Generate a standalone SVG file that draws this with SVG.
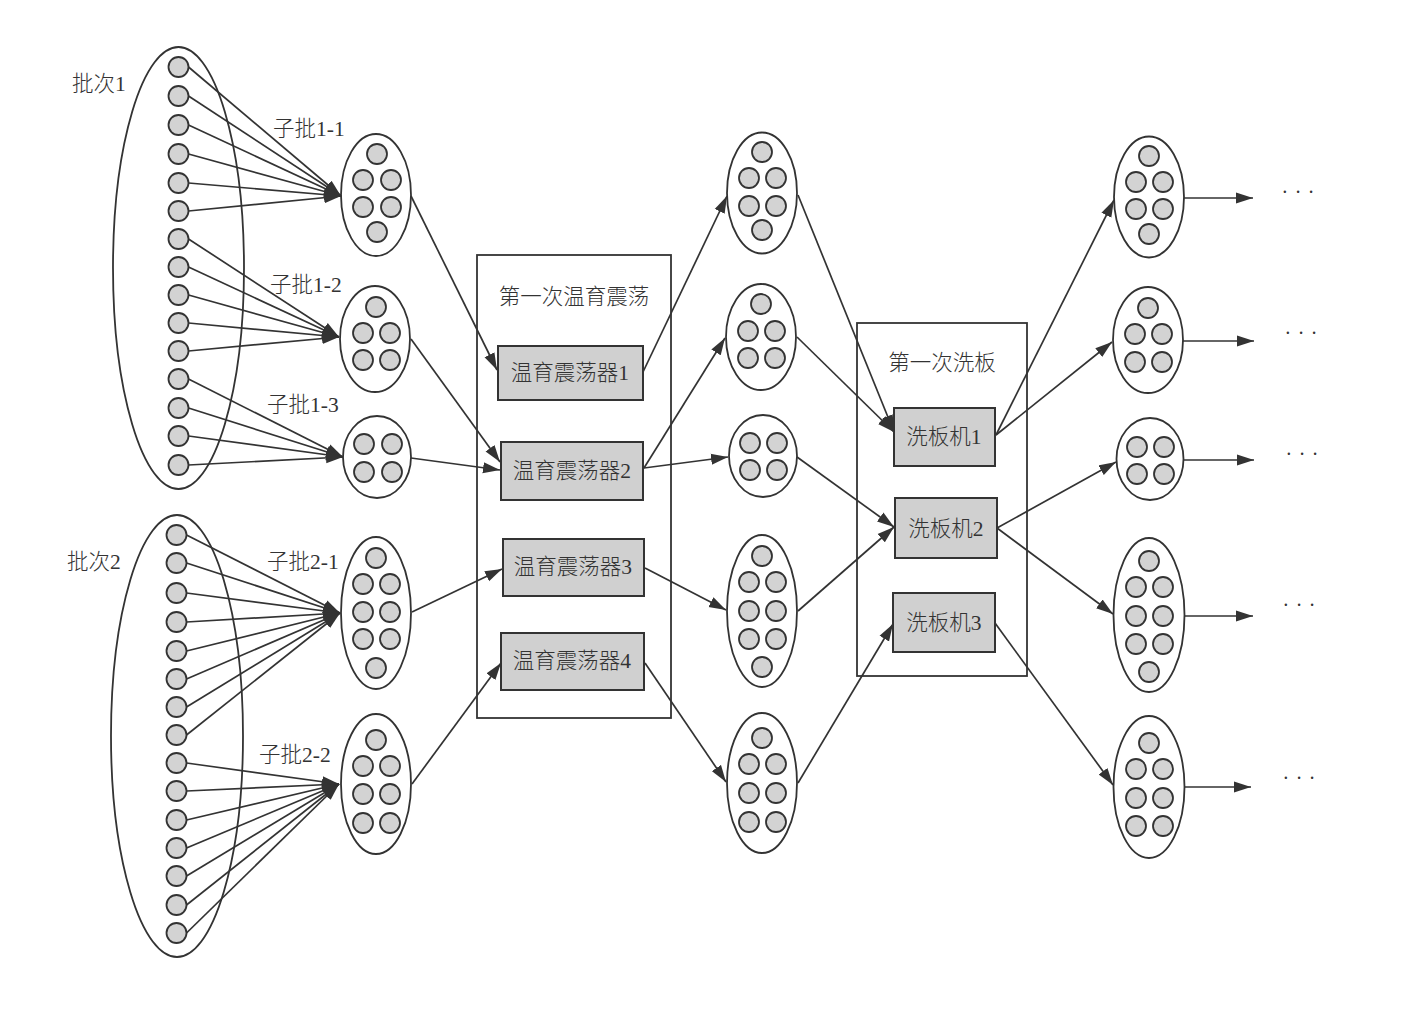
<svg xmlns="http://www.w3.org/2000/svg" width="1409" height="1019" viewBox="0 0 1409 1019">
<defs>
<style>
.c{fill:#d3d3d3;stroke:#333;stroke-width:1.8}
.e{fill:#fff;stroke:#333;stroke-width:1.8}
.bg{fill:none;stroke:#333;stroke-width:1.8}
.box{fill:#d0d0d0;stroke:#333;stroke-width:2}
.frame{fill:none;stroke:#333;stroke-width:1.8}
.lk{stroke:#333;stroke-width:1.7;fill:none;marker-end:url(#ah)}
text{font-family:"Liberation Serif","Noto Sans CJK SC",serif;font-size:21.5px;fill:#333;font-weight:300}
.m{text-anchor:middle}
.dots{font-size:20px;letter-spacing:6.5px}
</style>
<marker id="ah" markerUnits="userSpaceOnUse" markerWidth="17" markerHeight="12" refX="17" refY="6" orient="auto">
<path d="M0,0.5 L17,6 L0,11.5 z" fill="#333"/>
</marker>
</defs>
<rect width="1409" height="1019" fill="#fff"/>

<g id="batch1">
<ellipse class="bg" cx="178.5" cy="268" rx="65.5" ry="221"/>
<g class="c">
<circle cx="178.5" cy="67" r="10"/><circle cx="178.5" cy="96" r="10"/><circle cx="178.5" cy="125" r="10"/><circle cx="178.5" cy="154" r="10"/><circle cx="178.5" cy="183" r="10"/><circle cx="178.5" cy="211" r="10"/><circle cx="178.5" cy="239" r="10"/><circle cx="178.5" cy="267" r="10"/><circle cx="178.5" cy="295" r="10"/><circle cx="178.5" cy="323" r="10"/><circle cx="178.5" cy="351" r="10"/><circle cx="178.5" cy="379" r="10"/><circle cx="178.5" cy="408" r="10"/><circle cx="178.5" cy="436" r="10"/><circle cx="178.5" cy="465" r="10"/>
</g>
<text x="72" y="84" dominant-baseline="central">批次1</text>
</g>

<g id="batch2">
<ellipse class="bg" cx="177" cy="736" rx="66" ry="221"/>
<g class="c">
<circle cx="176.5" cy="535" r="10"/><circle cx="176.5" cy="563" r="10"/><circle cx="176.5" cy="593" r="10"/><circle cx="176.5" cy="622" r="10"/><circle cx="176.5" cy="651" r="10"/><circle cx="176.5" cy="679" r="10"/><circle cx="176.5" cy="707" r="10"/><circle cx="176.5" cy="735" r="10"/><circle cx="176.5" cy="763" r="10"/><circle cx="176.5" cy="791" r="10"/><circle cx="176.5" cy="820" r="10"/><circle cx="176.5" cy="848" r="10"/><circle cx="176.5" cy="876" r="10"/><circle cx="176.5" cy="905" r="10"/><circle cx="176.5" cy="933" r="10"/>
</g>
<text x="67" y="562" dominant-baseline="central">批次2</text>
</g>

<g id="sub1-1">
<ellipse class="e" cx="376" cy="195" rx="35" ry="61"/>
<g class="c"><circle cx="377" cy="154" r="10"/><circle cx="363" cy="180" r="10"/><circle cx="391" cy="180" r="10"/><circle cx="363" cy="207" r="10"/><circle cx="391" cy="207" r="10"/><circle cx="377" cy="232" r="10"/></g>
<text x="273" y="129" dominant-baseline="central">子批1-1</text>
</g>
<g id="sub1-2">
<ellipse class="e" cx="375" cy="339" rx="35" ry="53"/>
<g class="c"><circle cx="376" cy="307" r="10"/><circle cx="363" cy="333" r="10"/><circle cx="390" cy="333" r="10"/><circle cx="363" cy="360" r="10"/><circle cx="390" cy="360" r="10"/></g>
<text x="270" y="285" dominant-baseline="central">子批1-2</text>
</g>
<g id="sub1-3">
<ellipse class="e" cx="377" cy="457" rx="34" ry="41"/>
<g class="c"><circle cx="364" cy="444" r="10"/><circle cx="392" cy="444" r="10"/><circle cx="364" cy="472" r="10"/><circle cx="392" cy="472" r="10"/></g>
<text x="267" y="405" dominant-baseline="central">子批1-3</text>
</g>
<g id="sub2-1">
<ellipse class="e" cx="376" cy="613" rx="35" ry="76"/>
<g class="c"><circle cx="376" cy="558" r="10"/><circle cx="363" cy="584" r="10"/><circle cx="390" cy="584" r="10"/><circle cx="363" cy="612" r="10"/><circle cx="390" cy="612" r="10"/><circle cx="363" cy="639" r="10"/><circle cx="390" cy="639" r="10"/><circle cx="376" cy="668" r="10"/></g>
<text x="267" y="562" dominant-baseline="central">子批2-1</text>
</g>
<g id="sub2-2">
<ellipse class="e" cx="376" cy="784" rx="35" ry="70"/>
<g class="c"><circle cx="376" cy="740" r="10"/><circle cx="363" cy="766" r="10"/><circle cx="390" cy="766" r="10"/><circle cx="363" cy="794" r="10"/><circle cx="390" cy="794" r="10"/><circle cx="363" cy="823" r="10"/><circle cx="390" cy="823" r="10"/></g>
<text x="259" y="755" dominant-baseline="central">子批2-2</text>
</g>

<g id="incubate-group">
<rect class="frame" x="477" y="255" width="194" height="463"/>
<text class="m" x="574" y="297" dominant-baseline="central">第一次温育震荡</text>
</g>
<g id="inc1"><rect class="box" x="498" y="346" width="145" height="54"/><text class="m" x="570" y="373" dominant-baseline="central">温育震荡器1</text></g>
<g id="inc2"><rect class="box" x="501" y="442" width="142" height="58"/><text class="m" x="572" y="471" dominant-baseline="central">温育震荡器2</text></g>
<g id="inc3"><rect class="box" x="503" y="539" width="141" height="57"/><text class="m" x="573" y="567" dominant-baseline="central">温育震荡器3</text></g>
<g id="inc4"><rect class="box" x="501" y="633" width="143" height="57"/><text class="m" x="572" y="661" dominant-baseline="central">温育震荡器4</text></g>

<g id="mid-A">
<ellipse class="e" cx="762" cy="193" rx="35" ry="60.5"/>
<g class="c"><circle cx="762" cy="152" r="10"/><circle cx="749" cy="178" r="10"/><circle cx="776" cy="178" r="10"/><circle cx="749" cy="206" r="10"/><circle cx="776" cy="206" r="10"/><circle cx="762" cy="230" r="10"/></g>
</g>
<g id="mid-B">
<ellipse class="e" cx="761" cy="337" rx="35" ry="53"/>
<g class="c"><circle cx="761" cy="304" r="10"/><circle cx="748" cy="331" r="10"/><circle cx="775" cy="331" r="10"/><circle cx="748" cy="358" r="10"/><circle cx="775" cy="358" r="10"/></g>
</g>
<g id="mid-C">
<ellipse class="e" cx="763" cy="456" rx="34" ry="41"/>
<g class="c"><circle cx="750" cy="443" r="10"/><circle cx="777" cy="443" r="10"/><circle cx="750" cy="470" r="10"/><circle cx="777" cy="470" r="10"/></g>
</g>
<g id="mid-D">
<ellipse class="e" cx="762" cy="611" rx="35" ry="76"/>
<g class="c"><circle cx="762" cy="556" r="10"/><circle cx="749" cy="582" r="10"/><circle cx="776" cy="582" r="10"/><circle cx="749" cy="611" r="10"/><circle cx="776" cy="611" r="10"/><circle cx="749" cy="639" r="10"/><circle cx="776" cy="639" r="10"/><circle cx="762" cy="667" r="10"/></g>
</g>
<g id="mid-E">
<ellipse class="e" cx="762" cy="783" rx="35" ry="70"/>
<g class="c"><circle cx="762" cy="738" r="10"/><circle cx="749" cy="764" r="10"/><circle cx="776" cy="764" r="10"/><circle cx="749" cy="793" r="10"/><circle cx="776" cy="793" r="10"/><circle cx="749" cy="822" r="10"/><circle cx="776" cy="822" r="10"/></g>
</g>

<g id="wash-group">
<rect class="frame" x="857" y="323" width="170" height="353"/>
<text class="m" x="942" y="363" dominant-baseline="central">第一次洗板</text>
</g>
<g id="wash1"><rect class="box" x="894" y="408" width="101" height="58"/><text class="m" x="944" y="437" dominant-baseline="central">洗板机1</text></g>
<g id="wash2"><rect class="box" x="895" y="498" width="102" height="60"/><text class="m" x="946" y="529" dominant-baseline="central">洗板机2</text></g>
<g id="wash3"><rect class="box" x="893" y="593" width="102" height="59"/><text class="m" x="944" y="623" dominant-baseline="central">洗板机3</text></g>

<g id="out-1">
<ellipse class="e" cx="1149" cy="197" rx="35" ry="60.5"/>
<g class="c"><circle cx="1149" cy="156" r="10"/><circle cx="1136" cy="182" r="10"/><circle cx="1163" cy="182" r="10"/><circle cx="1136" cy="209" r="10"/><circle cx="1163" cy="209" r="10"/><circle cx="1149" cy="234" r="10"/></g>
<text class="dots" x="1281.5" y="199">···</text>
</g>
<g id="out-2">
<ellipse class="e" cx="1148" cy="340" rx="35" ry="53"/>
<g class="c"><circle cx="1148" cy="308" r="10"/><circle cx="1135" cy="334" r="10"/><circle cx="1162" cy="334" r="10"/><circle cx="1135" cy="362" r="10"/><circle cx="1162" cy="362" r="10"/></g>
<text class="dots" x="1284.5" y="340">···</text>
</g>
<g id="out-3">
<ellipse class="e" cx="1150" cy="459" rx="33.5" ry="41"/>
<g class="c"><circle cx="1137" cy="447" r="10"/><circle cx="1164" cy="447" r="10"/><circle cx="1137" cy="474" r="10"/><circle cx="1164" cy="474" r="10"/></g>
<text class="dots" x="1285.5" y="461">···</text>
</g>
<g id="out-4">
<ellipse class="e" cx="1149" cy="615" rx="35.5" ry="77"/>
<g class="c"><circle cx="1149" cy="561" r="10"/><circle cx="1136" cy="587" r="10"/><circle cx="1163" cy="587" r="10"/><circle cx="1136" cy="616" r="10"/><circle cx="1163" cy="616" r="10"/><circle cx="1136" cy="644" r="10"/><circle cx="1163" cy="644" r="10"/><circle cx="1149" cy="672" r="10"/></g>
<text class="dots" x="1282.5" y="612">···</text>
</g>
<g id="out-5">
<ellipse class="e" cx="1149" cy="787" rx="35.5" ry="71"/>
<g class="c"><circle cx="1149" cy="743" r="10"/><circle cx="1136" cy="769" r="10"/><circle cx="1163" cy="769" r="10"/><circle cx="1136" cy="798" r="10"/><circle cx="1163" cy="798" r="10"/><circle cx="1136" cy="826" r="10"/><circle cx="1163" cy="826" r="10"/></g>
<text class="dots" x="1282.5" y="785">···</text>
</g>

<g id="connectors">
<line class="lk" x1="188.5" y1="67" x2="341" y2="196"/>
<line class="lk" x1="188.5" y1="96" x2="341" y2="196"/>
<line class="lk" x1="188.5" y1="125" x2="341" y2="196"/>
<line class="lk" x1="188.5" y1="154" x2="341" y2="196"/>
<line class="lk" x1="188.5" y1="183" x2="341" y2="196"/>
<line class="lk" x1="188.5" y1="211" x2="341" y2="196"/>
<line class="lk" x1="188.5" y1="239" x2="339" y2="337"/>
<line class="lk" x1="188.5" y1="267" x2="339" y2="337"/>
<line class="lk" x1="188.5" y1="295" x2="339" y2="337"/>
<line class="lk" x1="188.5" y1="323" x2="339" y2="337"/>
<line class="lk" x1="188.5" y1="351" x2="339" y2="337"/>
<line class="lk" x1="188.5" y1="379" x2="343" y2="457"/>
<line class="lk" x1="188.5" y1="408" x2="343" y2="457"/>
<line class="lk" x1="188.5" y1="436" x2="343" y2="457"/>
<line class="lk" x1="188.5" y1="465" x2="343" y2="457"/>
<line class="lk" x1="186.5" y1="535" x2="340" y2="613"/>
<line class="lk" x1="186.5" y1="563" x2="340" y2="613"/>
<line class="lk" x1="186.5" y1="593" x2="340" y2="613"/>
<line class="lk" x1="186.5" y1="622" x2="340" y2="613"/>
<line class="lk" x1="186.5" y1="651" x2="340" y2="613"/>
<line class="lk" x1="186.5" y1="679" x2="340" y2="613"/>
<line class="lk" x1="186.5" y1="707" x2="340" y2="613"/>
<line class="lk" x1="186.5" y1="735" x2="340" y2="613"/>
<line class="lk" x1="186.5" y1="763" x2="339" y2="784"/>
<line class="lk" x1="186.5" y1="791" x2="339" y2="784"/>
<line class="lk" x1="186.5" y1="820" x2="339" y2="784"/>
<line class="lk" x1="186.5" y1="848" x2="339" y2="784"/>
<line class="lk" x1="186.5" y1="876" x2="339" y2="784"/>
<line class="lk" x1="186.5" y1="905" x2="339" y2="784"/>
<line class="lk" x1="186.5" y1="933" x2="339" y2="784"/>
<line class="lk" x1="411" y1="196" x2="497" y2="370"/>
<line class="lk" x1="411" y1="339" x2="500" y2="462"/>
<line class="lk" x1="411" y1="458" x2="500" y2="470"/>
<line class="lk" x1="412" y1="612" x2="502" y2="569"/>
<line class="lk" x1="412" y1="784" x2="501" y2="663"/>
<line class="lk" x1="643" y1="372" x2="727" y2="196"/>
<line class="lk" x1="644" y1="468" x2="725" y2="338"/>
<line class="lk" x1="644" y1="468" x2="728" y2="457"/>
<line class="lk" x1="645" y1="568" x2="726" y2="610"/>
<line class="lk" x1="645" y1="663" x2="726" y2="782"/>
<line class="lk" x1="798" y1="195" x2="894" y2="432"/>
<line class="lk" x1="797" y1="337" x2="894" y2="432"/>
<line class="lk" x1="797" y1="457" x2="894" y2="527"/>
<line class="lk" x1="798" y1="611" x2="894" y2="527"/>
<line class="lk" x1="798" y1="783" x2="893" y2="624"/>
<line class="lk" x1="996" y1="435" x2="1114" y2="200"/>
<line class="lk" x1="996" y1="435" x2="1112" y2="342"/>
<line class="lk" x1="997" y1="528" x2="1116" y2="462"/>
<line class="lk" x1="997" y1="528" x2="1113" y2="614"/>
<line class="lk" x1="995" y1="623" x2="1113" y2="785"/>
<line class="lk" x1="1184" y1="198" x2="1253" y2="198"/>
<line class="lk" x1="1183" y1="341" x2="1254" y2="341"/>
<line class="lk" x1="1184" y1="460" x2="1254" y2="460"/>
<line class="lk" x1="1184" y1="616" x2="1253" y2="616"/>
<line class="lk" x1="1184" y1="787" x2="1251" y2="787"/>
</g>
</svg>
